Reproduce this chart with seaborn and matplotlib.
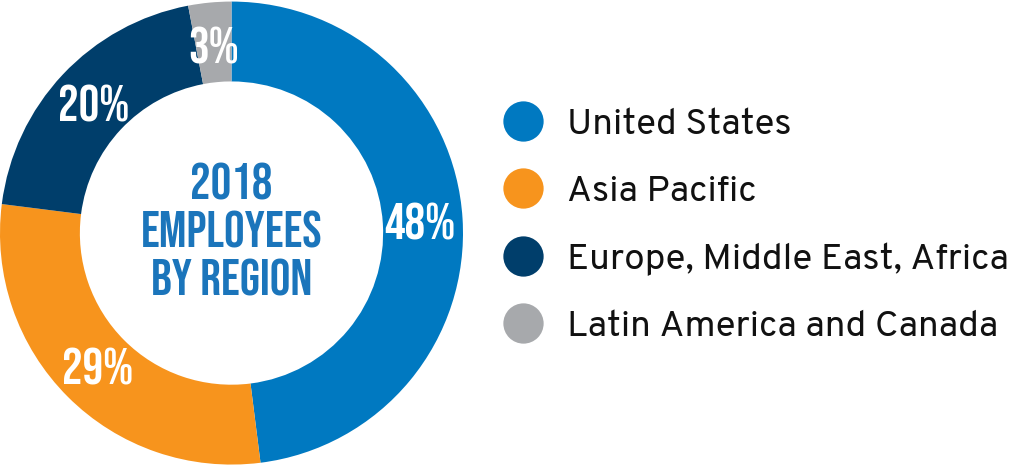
import matplotlib
matplotlib.use('Agg')
import matplotlib.pyplot as plt
import seaborn as sns

# ── Données ───────────────────────────────────────────────────────────────────
regions = ['United States', 'Asia Pacific',
           'Europe, Middle East, Africa', 'Latin America and Canada']
shares = [48, 29, 20, 3]
colors = ['#0079C1', '#F7941D', '#003E6B', '#A7A9AC']
center_title = '2018\nEMPLOYEES\nBY REGION'

sns.set_theme(style='white')
plt.rcParams['font.family'] = ['Bebas Neue', 'DejaVu Sans']

fig = plt.figure(figsize=(10.15, 4.66), dpi=100)
ax = fig.add_axes([0.0, 0.002, 463 / 1015, 464 / 466])

# ── Donut ─────────────────────────────────────────────────────────────────────
wedges, _, autotexts = ax.pie(
    shares, colors=colors, startangle=90, counterclock=False,
    radius=1.0, wedgeprops=dict(width=0.345, linewidth=0),
    autopct='%d%%', pctdistance=0.815,
)
for t in autotexts:
    t.set_color('white')
    t.set_fontsize(37)
    t.set_family(['Bebas Neue', 'DejaVu Sans'])

ax.text(0, 0.017, center_title, ha='center', va='center', color='#1B75BB',
        fontsize=37, linespacing=1.3,
        family=['Bebas Neue', 'DejaVu Sans'])
ax.set_xlim(-1, 1)
ax.set_ylim(-1, 1)
ax.set_aspect('equal')
ax.axis('off')

# ── Légende (axes en pixels) ─────────────────────────────────────────────────
lg = fig.add_axes([0, 0, 1, 1], zorder=-1)
lg.set_xlim(0, 1015)
lg.set_ylim(466, 0)
lg.axis('off')
for i, (name, c) in enumerate(zip(regions, colors)):
    y = 121 + 67.4 * i
    lg.scatter([523], [y], s=(29) ** 2, color=c, linewidths=0)
    lg.text(567, y + 13, name, ha='left', va='baseline', color='#111111',
            fontsize=26.5, family=['Overpass', 'DejaVu Sans'])

fig.savefig('out.png', dpi=100)
